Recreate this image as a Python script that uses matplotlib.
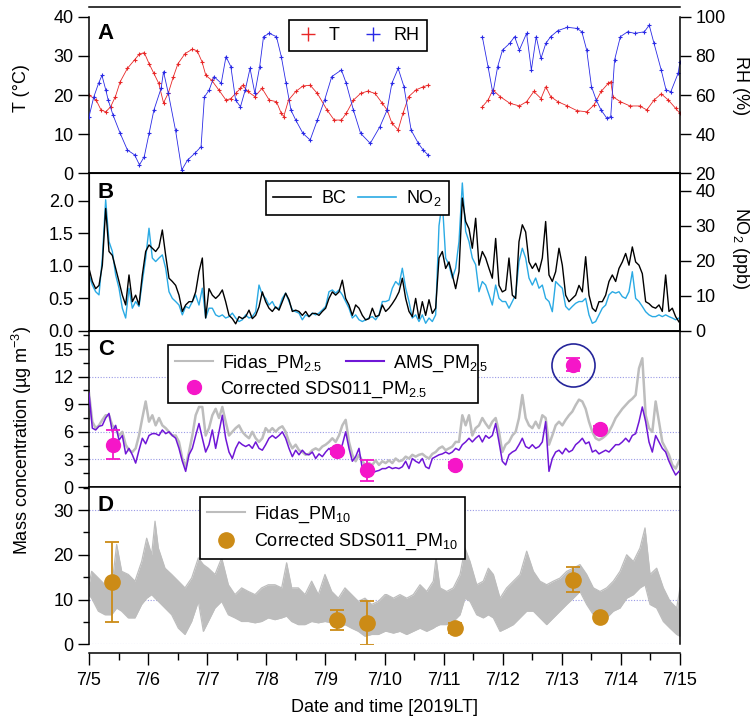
import numpy as np
import matplotlib
matplotlib.use('Agg')
import matplotlib.pyplot as plt
from matplotlib.lines import Line2D
from matplotlib.patches import Rectangle
from matplotlib.ticker import MultipleLocator

plt.rcParams['font.family'] = ['Liberation Sans', 'DejaVu Sans']
plt.rcParams['mathtext.fontset'] = 'custom'
plt.rcParams['mathtext.rm'] = 'Liberation Sans'
plt.rcParams['mathtext.it'] = 'Liberation Sans:italic'
plt.rcParams['mathtext.bf'] = 'Liberation Sans:bold'
plt.rcParams['mathtext.default'] = 'regular'
plt.rcParams['font.size'] = 13

# time in days since 7/5 00:00
day_labels = ['7/5', '7/6', '7/7', '7/8', '7/9', '7/10', '7/11', '7/12', '7/13', '7/14', '7/15']

# ---- panel A: temperature and RH (gap 7/10 evening - 7/11 morning)
t_temp = [0.0, 0.121, 0.203, 0.284, 0.366, 0.447, 0.528, 0.650, 0.772, 0.854, 0.935, 1.017, 1.098, 1.179,
          1.261, 1.342, 1.424, 1.505, 1.627, 1.749, 1.830, 1.912, 1.977, 2.074, 2.196, 2.318, 2.400, 2.481,
          2.563, 2.603, 2.684, 2.806, 2.928, 3.050, 3.172, 3.254, 3.295, 3.376, 3.498, 3.620, 3.742, 3.864,
          4.027, 4.149, 4.271, 4.352, 4.474, 4.596, 4.718, 4.840, 4.962, 5.044, 5.125, 5.231, 5.312, 5.410,
          5.532, 5.654, 5.736, 6.2,
          6.655, 6.752, 6.834, 6.956, 7.119, 7.282, 7.404, 7.526, 7.648, 7.730, 7.811, 7.933, 8.096, 8.258,
          8.421, 8.543, 8.665, 8.787, 8.828, 8.869, 8.991, 9.153, 9.316, 9.438, 9.560, 9.682, 9.804, 9.926, 10.0]
temp = [20.0, 18.7, 16.2, 15.7, 17.0, 19.6, 23.4, 26.8, 29.0, 30.5, 30.8, 28.0, 25.5, 23.0,
        18.0, 20.5, 24.5, 28.0, 30.6, 31.7, 31.3, 28.5, 25.0, 23.8, 21.3, 18.7, 19.1, 20.4,
        21.7, 22.5, 20.9, 19.6, 21.7, 18.7, 18.3, 15.3, 14.5, 18.7, 20.9, 22.3, 22.5, 20.4,
        16.2, 13.6, 13.6, 15.3, 18.7, 20.4, 21.0, 20.4, 17.9, 16.2, 12.8, 11.1, 15.3, 19.6,
        21.3, 22.1, 22.5, np.nan,
        17.0, 18.7, 21.3, 19.6, 17.9, 17.2, 18.3, 20.9, 19.1, 22.1, 19.6, 18.3, 17.2, 16.0,
        15.7, 17.4, 20.9, 23.0, 23.4, 19.5, 18.3, 17.2, 17.2, 16.2, 18.7, 20.3, 18.7, 16.6, 15.3]

t_rh = [0.0, 0.081, 0.162, 0.219, 0.284, 0.325, 0.406, 0.528, 0.650, 0.772, 0.854, 0.935, 1.017, 1.098,
        1.220, 1.261, 1.342, 1.464, 1.570, 1.668, 1.790, 1.896, 1.953, 2.034, 2.115, 2.237, 2.318, 2.400,
        2.481, 2.563, 2.644, 2.725, 2.806, 2.888, 2.953, 3.050, 3.172, 3.254, 3.335, 3.417, 3.498, 3.620,
        3.742, 3.864, 3.986, 4.108, 4.271, 4.352, 4.474, 4.596, 4.759, 4.922, 5.044, 5.125, 5.231, 5.329,
        5.451, 5.573, 5.654, 5.736, 6.2,
        6.655, 6.752, 6.834, 6.915, 6.997, 7.119, 7.201, 7.282, 7.404, 7.485, 7.567, 7.648, 7.730, 7.811,
        7.933, 8.096, 8.258, 8.339, 8.421, 8.502, 8.583, 8.665, 8.763, 8.828, 8.893, 8.991, 9.113, 9.235,
        9.397, 9.479, 9.560, 9.682, 9.764, 9.845, 9.967, 10.0]
rh = [48.9, 59.0, 66.0, 70.0, 62.6, 57.4, 49.8, 40.4, 31.9, 29.4, 24.3, 28.5, 40.4, 52.3,
      63.4, 71.9, 60.9, 42.0, 21.7, 26.8, 30.2, 33.6, 59.0, 62.6, 69.4, 66.0, 79.6, 74.5,
      57.4, 54.0, 62.6, 73.6, 60.9, 74.5, 89.8, 91.5, 89.8, 79.6, 66.0, 52.3, 47.2, 40.4,
      37.0, 47.2, 57.4, 69.4, 72.8, 66.0, 52.3, 40.4, 35.3, 43.8, 52.3, 66.0, 73.6, 64.3,
      42.0, 35.3, 31.9, 29.4, np.nan,
      89.8, 74.5, 60.9, 74.5, 83.0, 86.4, 89.8, 83.0, 91.5, 72.8, 89.8, 78.7, 86.4, 89.8,
      92.9, 94.6, 94.0, 92.3, 83.0, 64.3, 57.4, 52.3, 48.1, 49.0, 77.9, 89.8, 92.3, 91.5,
      92.3, 95.7, 86.4, 72.8, 62.6, 61.7, 71.0, 77.0]

# ---- 81-min grid for panels B and C
t_grid = np.arange(178) * 0.0564

bc = [0.96, 0.76, 0.65, 0.70, 1.01, 1.88, 1.22, 1.16, 0.96, 0.76,
      0.55, 0.40, 0.86, 0.45, 0.55, 0.40, 0.86, 1.22, 1.32, 1.27,
      1.22, 1.29, 1.55, 1.16, 0.81, 0.76, 0.70, 0.55, 0.30, 0.40,
      0.45, 0.45, 0.60, 0.91, 1.12, 0.20, 0.65, 0.55, 0.50, 0.55,
      0.63, 0.45, 0.24, 0.19, 0.11, 0.22, 0.19, 0.22, 0.32, 0.19,
      0.24, 0.37, 0.60, 0.45, 0.35, 0.30, 0.37, 0.32, 0.45, 0.58,
      0.48, 0.30, 0.32, 0.30, 0.24, 0.30, 0.22, 0.27, 0.27, 0.24,
      0.30, 0.35, 0.50, 0.60, 0.55, 0.60, 0.78, 0.50, 0.40, 0.24,
      0.40, 0.35, 0.24, 0.17, 0.19, 0.35, 0.22, 0.24, 0.40,
      0.30, 0.35, 0.42, 0.50, 0.60, 0.81, 0.50, 0.30, 0.22,
      0.50, 0.19, 0.45, 0.24, 0.48, 0.27, 0.35, 1.12, 1.22, 0.96,
      1.06, 0.86, 0.65, 0.91, 2.04, 1.68, 1.57, 1.27, 1.73, 1.01,
      1.22, 1.12, 0.96, 0.81, 1.42, 0.70, 0.60, 0.63, 1.12, 0.55,
      0.50, 1.37, 1.63, 1.52, 1.06, 0.96, 1.04, 0.91, 1.12, 1.68,
      0.86, 0.76, 0.91, 1.27, 1.01, 0.55, 0.45, 0.50, 0.55, 0.70,
      0.60, 1.14, 0.55, 0.35, 0.30, 0.45, 0.45, 0.55, 0.76, 0.86,
      0.76, 0.96, 1.06, 1.19, 1.01, 1.29, 1.06, 1.01, 0.88, 0.45,
      0.42, 0.37, 0.35, 0.40, 0.30, 0.86, 0.30, 0.35, 0.22, 0.14]

no2 = [16.0, 13.1, 11.2, 10.3, 20.8, 37.4, 25.5, 22.7, 16.0, 12.2,
       6.5, 3.7, 12.2, 6.5, 8.4, 7.0, 14.1, 20.8, 29.3, 20.8,
       19.8, 20.8, 21.7, 17.9, 11.2, 9.3, 8.4, 7.4, 4.6, 7.0,
       6.5, 8.4, 10.3, 7.4, 12.2, 3.7, 6.5, 6.5, 4.6, 4.1,
       4.6, 3.7, 4.1, 5.1, 3.7, 2.7, 3.2, 4.6, 3.7, 4.1,
       5.5, 13.1, 10.3, 9.3, 7.4, 8.4, 6.5, 6.5, 9.3, 10.8,
       8.4, 6.0, 5.5, 5.1, 3.2, 4.6, 4.1, 5.1, 4.6, 5.1,
       6.0, 7.0, 11.2, 11.7, 10.8, 11.7, 10.3, 8.4, 6.5, 3.7,
       4.6, 3.2, 2.7, 3.2, 3.7, 4.1, 3.2, 4.6, 8.4,
       8.4, 8.8, 12.2, 14.1, 13.1, 17.9, 12.2, 8.4, 3.7,
       4.6, 2.7, 4.6, 2.2, 3.7, 2.7, 4.6, 30.0, 37.0, 20.8,
       18.9, 15.1, 17.9, 25.5, 42.2, 28.4, 25.5, 20.8, 18.9, 11.2,
       14.1, 13.1, 10.3, 7.4, 13.1, 9.3, 8.4, 8.4, 6.5, 8.4,
       10.3, 19.8, 23.6, 20.8, 15.1, 13.1, 15.1, 12.2, 13.1, 9.3,
       8.4, 5.5, 14.1, 13.1, 12.2, 7.0, 6.0, 7.0, 7.9, 8.4,
       8.4, 9.3, 4.6, 2.2, 2.7, 4.6, 6.5, 7.4, 10.3, 11.2,
       10.8, 11.2, 9.8, 9.3, 11.2, 16.9, 9.3, 8.4, 7.0, 5.5,
       4.6, 4.1, 4.1, 4.6, 4.1, 4.6, 4.1, 3.7, 3.2, 3.7]

ams_pm25 = [10.2, 6.4, 6.2, 6.6, 6.7, 7.5, 8.0, 6.0, 6.7, 5.1,
            5.6, 3.6, 4.2, 3.5, 2.6, 4.0, 5.3, 4.7, 5.6, 5.8,
            5.8, 5.6, 6.2, 5.8, 6.0, 5.6, 5.3, 4.2, 2.8, 1.7,
            3.5, 4.2, 5.6, 6.9, 5.3, 3.8, 4.6, 6.2, 4.2, 6.0,
            7.8, 5.3, 3.8, 3.1, 4.2, 4.9, 4.6, 4.4, 4.6, 4.2,
            4.9, 4.2, 4.0, 4.6, 5.3, 5.6, 5.3, 5.6, 6.0, 5.3,
            4.2, 3.3, 4.0, 3.5, 4.0, 3.6, 3.5, 3.8, 3.1, 3.6,
            3.3, 3.8, 4.2, 3.8, 4.0, 3.8, 4.6, 6.0, 4.2, 2.8,
            3.3, 4.2, 2.0, 1.7, 2.0, 1.5, 1.7, 1.8, 2.0,
            2.0, 2.2, 2.0, 2.1, 2.0, 2.2, 2.8, 2.0, 3.1,
            2.8, 2.6, 3.1, 2.2, 2.0, 3.1, 3.3, 3.5, 3.6, 3.8,
            3.6, 3.8, 4.2, 4.0, 4.6, 4.9, 5.3, 4.9, 5.3, 5.6,
            4.9, 5.6, 5.3, 5.6, 6.9, 4.9, 2.8, 2.4, 3.5, 3.8,
            4.0, 4.6, 5.3, 4.4, 4.2, 4.6, 4.2, 4.4, 4.9, 7.1,
            1.7, 3.1, 3.8, 4.0, 3.6, 4.2, 3.8, 4.0, 4.6, 4.9,
            5.3, 4.7, 4.9, 3.8, 4.0, 3.6, 3.8, 4.0, 3.8, 4.2,
            4.6, 4.6, 4.9, 5.3, 4.9, 5.6, 5.8, 7.1, 8.7, 7.1,
            4.9, 3.8, 5.6, 4.9, 4.2, 3.8, 2.8, 2.0, 1.3, 1.7]

fidas_pm25 = [10.2, 7.1, 6.4, 6.7, 7.3, 7.8, 7.8, 6.7, 6.4, 5.6,
              6.0, 4.6, 4.0, 3.8, 4.2, 5.6, 7.5, 9.3, 7.1, 7.8,
              6.7, 7.5, 6.7, 6.4, 6.0, 5.6, 5.6, 4.9, 3.1, 2.2,
              3.8, 5.6, 7.8, 8.7, 8.7, 5.6, 6.4, 7.8, 8.5, 7.5,
              8.7, 7.1, 5.6, 6.0, 6.4, 6.7, 6.0, 5.6, 5.3, 6.0,
              5.3, 4.9, 5.3, 6.4, 6.0, 6.4, 6.0, 6.4, 6.6, 6.0,
              4.9, 4.2, 4.6, 4.0, 3.8, 3.5, 3.6, 4.0, 4.2, 4.0,
              4.4, 4.6, 4.9, 5.3, 4.9, 5.6, 6.7, 7.3, 4.9, 3.5,
              2.8, 3.5, 2.8, 2.4, 2.6, 2.4, 2.9, 2.4, 2.8,
              2.6, 2.9, 2.6, 3.1, 2.8, 2.9, 3.3, 3.1, 3.5,
              3.3, 3.5, 3.6, 3.3, 3.1, 3.6, 3.8, 4.2, 4.4, 4.0,
              4.2, 4.4, 4.9, 4.9, 7.8, 6.7, 7.8, 5.6, 6.4, 6.7,
              7.5, 6.9, 6.4, 7.1, 7.5, 6.0, 3.8, 4.6, 4.9, 5.6,
              6.0, 7.5, 10.0, 7.5, 6.7, 6.4, 7.1, 6.4, 7.8, 7.5,
              4.6, 5.6, 6.7, 7.1, 6.7, 7.3, 7.8, 8.2, 8.9, 9.5,
              9.3, 8.5, 7.1, 6.0, 5.3, 5.1, 5.3, 5.6, 6.0, 6.7,
              7.5, 8.0, 8.5, 8.9, 9.3, 9.6, 10.0, 12.9, 14.0, 7.8,
              6.4, 6.0, 9.3, 7.1, 4.9, 4.2, 3.5, 2.4, 2.0, 2.8]

# corrected SDS011 samples
t_sds25 = [0.41, 4.20, 4.70, 6.19, 8.19, 8.65]
sds_pm25 = [4.6, 3.9, 1.8, 2.4, 13.3, 6.3]
sds_pm25_err = [1.6, 0.3, 1.1, 0.3, 0.7, 0.3]

t_sds10 = [0.39, 4.19, 4.70, 6.19, 8.19, 8.65]
sds_pm10 = [13.9, 5.4, 4.8, 3.6, 14.4, 6.2]
sds_pm10_err = [9.0, 2.3, 4.9, 1.1, 2.8, 0.5]

# ---- panel D: Fidas PM10, upper and lower envelope of the 1-min trace
t_pm10 = [0.0, 0.045, 0.158, 0.271, 0.383, 0.468, 0.553, 0.665, 0.778, 0.891, 0.976, 1.060, 1.117, 1.173,
          1.286, 1.399, 1.512, 1.624, 1.737, 1.850, 1.935, 2.019, 2.132, 2.245, 2.358, 2.470, 2.583, 2.696,
          2.809, 2.921, 3.034, 3.147, 3.260, 3.344, 3.429, 3.542, 3.655, 3.767, 3.880, 3.993, 4.106, 4.219,
          4.331, 4.444, 4.557, 4.670, 4.783, 4.895, 5.008,
          5.037, 5.150, 5.262, 5.375, 5.488, 5.601, 5.714, 5.826, 5.872, 5.939, 6.052, 6.165, 6.278, 6.362,
          6.447, 6.560, 6.672, 6.757, 6.842, 6.955, 7.067, 7.180, 7.293, 7.406, 7.519, 7.631, 7.744, 7.857,
          7.970, 8.083, 8.195, 8.308, 8.421, 8.534, 8.647, 8.759, 8.872, 8.985, 9.098, 9.211, 9.323, 9.408,
          9.493, 9.605, 9.718, 9.831, 9.944, 10.0]
pm10_hi = [13.3, 16.3, 14.8, 13.3, 12.6, 22.3, 16.3, 15.6, 14.1, 18.5, 23.7, 20.0, 27.5, 21.5,
           17.0, 15.6, 14.1, 12.6, 14.8, 19.3, 17.8, 17.0, 15.6, 19.3, 13.3, 11.1, 12.6, 11.8,
           11.1, 12.6, 13.3, 13.3, 12.6, 18.2, 12.6, 12.6, 11.1, 14.1, 11.1, 15.6, 11.8, 10.3,
           12.6, 11.1, 9.6, 10.3, 8.9, 9.6, 11.1,
           11.1, 10.3, 11.1, 10.3, 11.1, 13.3, 11.8, 14.1, 19.3, 12.6, 11.8, 12.6, 15.6, 21.5,
           18.5, 13.3, 14.1, 17.0, 15.6, 10.3, 12.6, 14.1, 15.6, 20.8, 16.3, 14.1, 13.3, 14.1,
           14.8, 16.3, 17.0, 17.8, 15.6, 12.6, 11.8, 12.6, 14.1, 16.3, 20.0, 18.5, 21.5, 26.0,
           15.6, 17.0, 12.6, 9.6, 8.1, 12.6]
pm10_lo = [11.0, 10.3, 7.4, 6.6, 6.6, 8.1, 7.4, 5.9, 5.9, 8.9, 10.3, 11.1, 10.3, 9.6,
           8.1, 6.6, 3.6, 2.2, 5.1, 9.6, 2.9, 5.1, 8.1, 9.6, 6.6, 5.9, 5.1, 5.1,
           4.8, 5.1, 5.9, 5.5, 5.9, 6.3, 5.1, 4.4, 4.4, 5.1, 4.8, 5.1, 4.8, 3.6,
           4.4, 3.6, 2.9, 1.8, 2.2, 2.2, 2.9,
           2.9, 2.5, 2.9, 2.2, 2.9, 3.6, 2.9, 3.6, 4.0, 4.4, 4.4, 5.1, 6.6, 10.3,
           9.6, 6.6, 5.9, 6.6, 5.9, 2.9, 3.6, 4.4, 5.9, 7.4, 7.4, 5.9, 4.4, 5.9,
           7.4, 8.9, 10.3, 11.8, 8.9, 6.6, 5.1, 5.9, 7.4, 8.1, 10.3, 11.1, 12.6, 13.3,
           8.9, 8.1, 5.1, 3.6, 2.2, 1.8]

RED = '#e82727'
BLUE = '#2a2ae6'
SKY = '#2aaae4'
GRAY = '#bdbdbd'
PURPLE = '#6f17d6'
MAGENTA = '#f516c8'
GOLD = '#cc8b16'
GRID = '#9a9ae6'

W, H = 754, 722
fig = plt.figure(figsize=(W / 100, H / 100), dpi=100)


def box(top, bottom):
    return [89 / W, 1 - bottom / H, (680 - 89) / W, (bottom - top) / H]


axA = fig.add_axes(box(7, 173.3))
axB = fig.add_axes(box(173.3, 331))
axC = fig.add_axes(box(331, 487))
axD = fig.add_axes(box(487, 644.3))

for ax in (axA, axB, axC, axD):
    ax.set_xlim(0, 10)
    ax.tick_params(axis='x', which='both', bottom=False, top=False, labelbottom=False)
    ax.tick_params(axis='y', which='major', direction='out', length=8, width=1, pad=3, labelsize=13)
    ax.tick_params(axis='y', which='minor', direction='out', length=4.5, width=1)
    for s in ax.spines.values():
        s.set_linewidth(1.1)

# A
axA.plot(t_temp, temp, color=RED, lw=0.6, marker='+', ms=3.5, mew=0.8)
axA2 = axA.twinx()
axA2.plot(t_rh, rh, color=BLUE, lw=0.6, marker='+', ms=3.5, mew=0.8)
axA.set_ylim(0, 42.48)
axA2.set_ylim(20, 104.96)
axA.set_yticks([0, 10, 20, 30, 40])
axA2.set_yticks([20, 40, 60, 80, 100])
axA.spines['left'].set_bounds(0, 40)
axA.spines['right'].set_visible(False)
axA2.spines['right'].set_bounds(20, 100)
for s in ('left', 'top', 'bottom'):
    axA2.spines[s].set_visible(False)
axA2.spines['right'].set_linewidth(1.1)
axA2.tick_params(axis='y', direction='out', length=8, width=1, pad=3, labelsize=13)
legA = axA.legend(handles=[Line2D([], [], color=RED, marker='+', ls='none', ms=10, mew=1),
                           Line2D([], [], color=BLUE, marker='+', ls='none', ms=10, mew=1)],
                  labels=['T', 'RH'], ncol=2, loc='upper left',
                  bbox_to_anchor=(289 / W, 1 - 20 / H), bbox_transform=fig.transFigure,
                  borderaxespad=0, fancybox=False, framealpha=1, edgecolor='k',
                  handlelength=1.3, handletextpad=0.5, columnspacing=1.2, fontsize=13)
legA.get_frame().set_linewidth(1.2)
axA.text(0.015, 0.808, 'A', transform=axA.transAxes, fontsize=16, fontweight='bold')

# B
axB2 = axB.twinx()
axB2.plot(t_grid, no2, color=SKY, lw=1.0)
axB.plot(t_grid, bc, color='k', lw=1.0)
axB.set_zorder(axB2.get_zorder() + 1)
axB.patch.set_visible(False)
axB.set_ylim(0, 2.42)
axB2.set_ylim(0, 44.96)
axB.set_yticks([0, 0.5, 1.0, 1.5, 2.0])
axB.set_yticklabels(['0.0', '0.5', '1.0', '1.5', '2.0'])
axB2.set_yticks([0, 10, 20, 30, 40])
axB2.tick_params(axis='y', direction='out', length=8, width=1, pad=3, labelsize=13)
axB2.spines['right'].set_linewidth(1.1)
legB = axB.legend(handles=[Line2D([], [], color='k', lw=1.2), Line2D([], [], color=SKY, lw=1.2)],
                  labels=['BC', 'NO$_2$'], ncol=2, loc='upper left',
                  bbox_to_anchor=(266 / W, 1 - 181 / H), bbox_transform=fig.transFigure,
                  borderaxespad=0, fancybox=False, framealpha=1, edgecolor='k',
                  handlelength=2.1, handletextpad=0.6, columnspacing=0.6, fontsize=13)
legB.get_frame().set_linewidth(1.2)
axB.text(0.015, 0.843, 'B', transform=axB.transAxes, fontsize=16, fontweight='bold')

# C
for g in (3, 6, 12):
    axC.axhline(g, color=GRID, lw=0.8, ls=(0, (1, 1.5)), zorder=0)
axC.plot(t_grid, fidas_pm25, color=GRAY, lw=1.8, zorder=2)
axC.plot(t_grid, ams_pm25, color=PURPLE, lw=1.1, zorder=3)
axC.errorbar(t_sds25, sds_pm25, yerr=sds_pm25_err, fmt='o', color=MAGENTA, ms=10,
             elinewidth=1.3, capsize=5, capthick=1.3, zorder=4)
axC.plot(t_sds25[4], sds_pm25[4], marker='o', ms=31, mfc='none', mec='#25259a', mew=1.2, zorder=4)
axC.set_ylim(0, 16.96)
axC.set_yticks([0, 3, 6, 9, 12, 15])
axC.yaxis.set_minor_locator(MultipleLocator(1.5))
axC.add_patch(Rectangle((168 / W, 1 - 403 / H), 310 / W, 58 / H, transform=fig.transFigure,
                        facecolor='white', edgecolor='k', lw=1.2, zorder=6))
h_fidas = Line2D([], [], color=GRAY, lw=1.5)
h_ams = Line2D([], [], color=PURPLE, lw=1.5)
h_sds25 = Line2D([], [], color=MAGENTA, marker='o', ls='none', ms=10)
legC1 = axC.legend(handles=[h_fidas, h_ams], labels=['Fidas_PM$_{2.5}$', 'AMS_PM$_{2.5}$'], ncol=2,
                   loc='upper left', bbox_to_anchor=(168 / W, 1 - 346 / H), bbox_transform=fig.transFigure,
                   borderaxespad=0, frameon=False, handlelength=2.1, handletextpad=0.5,
                   columnspacing=1.3, fontsize=13)
legC1.set_zorder(7)
axC.add_artist(legC1)
legC2 = axC.legend(handles=[h_sds25], labels=['Corrected SDS011_PM$_{2.5}$'], loc='upper left',
                   bbox_to_anchor=(168 / W, 1 - 372 / H), bbox_transform=fig.transFigure,
                   borderaxespad=0, frameon=False, handlelength=2.1, handletextpad=0.4, fontsize=13)
legC2.set_zorder(7)
axC.text(0.015, 0.846, 'C', transform=axC.transAxes, fontsize=16, fontweight='bold', zorder=8)

# D
for g in (0, 10, 30):
    axD.axhline(g, color=GRID, lw=0.8, ls=(0, (1, 1.5)), zorder=0)
axD.fill_between(t_pm10, pm10_lo, pm10_hi, color=GRAY, lw=0, zorder=2)
axD.plot(t_pm10, pm10_hi, color=GRAY, lw=0.9, zorder=2)
axD.plot(t_pm10, pm10_lo, color=GRAY, lw=0.9, zorder=2)
axD.errorbar(t_sds10, sds_pm10, yerr=sds_pm10_err, fmt='o', color=GOLD, ms=11,
             elinewidth=1.3, capsize=5, capthick=1.3, zorder=4)
axD.set_ylim(0, 35.14)
axD.set_yticks([0, 10, 20, 30])
axD.yaxis.set_minor_locator(MultipleLocator(5))
legD = axD.legend(handles=[Line2D([], [], color=GRAY, lw=1.5),
                           Line2D([], [], color=GOLD, marker='o', ls='none', ms=11)],
                  labels=['Fidas_PM$_{10}$', 'Corrected SDS011_PM$_{10}$'], loc='upper left',
                  bbox_to_anchor=(200 / W, 1 - 497 / H), bbox_transform=fig.transFigure,
                  borderaxespad=0, fancybox=False, framealpha=1, edgecolor='k',
                  handlelength=2.1, handletextpad=0.5, fontsize=13, labelspacing=0.4)
legD.get_frame().set_linewidth(1.2)
legD.set_zorder(7)
axD.text(0.015, 0.847, 'D', transform=axD.transAxes, fontsize=16, fontweight='bold')

axD.spines['bottom'].set_position(('outward', 6.5))
axD.set_xticks(range(11))
axD.set_xticklabels(day_labels)
axD.xaxis.set_minor_locator(MultipleLocator(0.5))
axD.tick_params(axis='x', which='major', bottom=True, labelbottom=True, direction='out',
                length=8.6, width=1, pad=5, labelsize=13)
axD.tick_params(axis='x', which='minor', bottom=True, direction='out', length=5, width=1)
axD.set_xlabel('Date and time [2019LT]', fontsize=13, labelpad=7)

# axis titles
fig.text(22 / W, 1 - 88 / H, 'T (°C)', rotation=90, ha='center', va='center', fontsize=13)
fig.text(22 / W, 1 - 440 / H, 'Mass concentration (µg m$^{-3}$)', rotation=90, ha='center',
         va='center', fontsize=13)
fig.text(740 / W, 1 - 86 / H, 'RH (%)', rotation=270, ha='center', va='center', fontsize=13)
fig.text(740 / W, 1 - 248 / H, 'NO$_2$ (ppb)', rotation=270, ha='center', va='center', fontsize=13)

fig.savefig('out.png', dpi=100)
